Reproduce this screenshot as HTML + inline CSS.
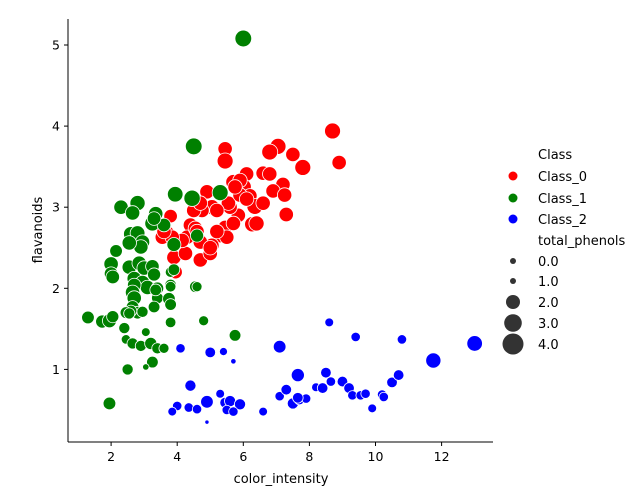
<!DOCTYPE html>
<html><head><meta charset="utf-8"><style>
body{margin:0;background:#fff}
svg{display:block;font-family:"DejaVu Sans","Liberation Sans",sans-serif}
</style></head><body>
<svg id="chart" width="643" height="500" viewBox="0 0 643 500" xmlns="http://www.w3.org/2000/svg">
<g id="marks"></g>
<g id="axes"></g>
<g id="legend"></g>
</svg>
<script>
const c0x=[8.7,8.9,5.45,5.45,7.05,6.8,7.5,7.8,6.6,6.8,6.1,7.2,6.9,7.25,7.3,5.7,6.0,6.2,6.35,6.27,5.85,5.6,5.45,5.3,4.9,5.05,4.75,4.5,3.8,4.4,3.7,3.55,4.3,3.9,4.25,4.7,5.0,5.05,3.95,4.55,5.55,5.2,5.9,5.9,5.75,4.7,4.15,5.5,3.85,6.4,5.2,6.6,4.6,5.7,6.1,4.7,5.0,3.6];
const c0y=[3.94,3.55,3.72,3.57,3.75,3.68,3.65,3.49,3.42,3.41,3.41,3.28,3.2,3.15,2.91,3.31,3.25,3.14,3.01,2.79,2.9,3.0,2.75,2.65,3.19,3.0,2.96,2.96,2.89,2.78,2.68,2.63,2.63,2.38,2.43,2.35,2.43,2.53,2.2,2.74,3.05,2.96,3.15,3.33,3.25,2.57,2.59,2.63,2.63,2.8,2.7,3.05,2.7,2.8,3.1,3.05,2.5,2.7];
const c0p=[3.0,2.6,2.6,3.0,3.0,3.0,2.6,3.0,2.6,2.6,2.6,2.6,2.6,2.6,2.6,2.8,3.0,2.6,3.0,2.8,2.6,2.6,2.6,2.6,2.6,2.8,2.6,2.6,2.4,2.6,2.6,2.6,2.6,2.6,2.6,2.6,2.6,2.6,2.4,2.6,2.6,2.6,2.6,2.6,2.6,2.6,2.6,2.6,2.6,2.8,2.6,2.6,2.6,2.6,2.6,2.6,2.6,2.6];
const c1x=[3.94,4.45,2.3,2.8,2.65,3.35,3.25,3.9,4.6,2.15,2.6,2.8,2.95,2.9,2.55,2.0,2.0,2.05,2.55,2.85,3.0,3.25,3.3,2.7,2.95,3.1,2.7,2.65,2.7,2.65,2.8,2.6,2.45,3.4,3.4,3.3,3.75,3.8,3.8,4.55,1.3,1.73,1.95,2.05,2.4,2.55,2.95,3.8,3.05,2.45,2.65,2.9,3.2,3.4,3.6,3.25,3.05,2.5,1.95,6.0,4.5,5.75,4.8,4.6,3.8,3.8,5.3,3.6,3.3,3.9,3.35];
const c1y=[3.16,3.11,3.0,3.05,2.93,2.92,2.8,2.54,2.65,2.46,2.67,2.68,2.57,2.51,2.56,2.3,2.18,2.14,2.26,2.31,2.25,2.27,2.17,2.12,2.07,2.01,2.04,1.95,1.88,1.77,1.7,1.72,1.7,2.0,1.88,1.77,1.87,1.8,2.04,2.02,1.64,1.59,1.6,1.65,1.51,1.69,1.71,1.58,1.46,1.37,1.32,1.29,1.32,1.26,1.26,1.09,1.03,1.0,0.58,5.08,3.75,1.42,1.6,2.02,2.02,2.2,3.18,2.78,2.86,2.23,1.98];
const c1p=[2.9,3.1,2.6,2.8,2.6,2.6,2.8,2.5,2.3,2.2,2.7,2.7,2.6,2.6,2.6,2.6,2.4,2.4,2.6,2.6,2.6,2.4,2.3,2.6,2.6,2.6,2.4,2.6,2.6,2.2,2.2,2.0,2.0,2.2,2.0,2.0,2.2,2.0,2.0,2.0,2.2,2.3,2.5,2.1,1.9,1.9,1.9,1.8,1.5,1.6,1.9,1.9,2.1,1.9,1.7,2.0,1.2,1.9,2.2,3.2,3.2,2.0,1.7,1.7,1.8,1.8,3.0,2.4,2.4,2.0,2.0];
const c2x=[8.6,9.4,10.8,13.0,11.75,7.1,4.1,5.0,5.4,5.7,4.4,5.3,4.9,4.0,3.85,4.35,4.6,4.9,5.45,5.6,5.9,5.5,5.7,6.6,7.1,7.3,7.65,7.5,7.7,7.9,7.65,8.2,8.4,8.5,8.65,9.0,9.2,9.3,9.55,9.7,9.9,10.2,10.25,10.5,10.7];
const c2y=[1.58,1.4,1.37,1.32,1.11,1.28,1.26,1.21,1.22,1.1,0.8,0.7,0.6,0.55,0.48,0.53,0.51,0.35,0.59,0.61,0.57,0.5,0.48,0.48,0.67,0.75,0.93,0.58,0.63,0.64,0.65,0.78,0.77,0.96,0.85,0.85,0.77,0.68,0.68,0.7,0.52,0.69,0.66,0.84,0.93];
const c2p=[1.5,1.6,1.6,2.9,2.8,2.2,1.6,1.8,1.4,1.1,1.9,1.5,2.2,1.6,1.5,1.6,1.6,1.0,1.8,1.9,1.9,1.6,1.6,1.5,1.6,1.8,2.3,1.9,1.8,1.6,1.8,1.5,1.8,1.8,1.6,1.8,1.8,1.6,1.6,1.6,1.5,1.6,1.6,1.8,1.8];
const classNames=["Class_0","Class_1","Class_2"];
const classColors=["#ff0000","#008000","#0000ff"];
const xTicks=[2,4,6,8,10,12];
const yTicks=[1,2,3,4,5];
const sizeLabels=["0.0","1.0","2.0","3.0","4.0"];

const NS="http://www.w3.org/2000/svg";
const X=v=>45+v*33.05, Y=v=>450.5-v*81.1;
const R=p=>Math.sqrt(4+86*Math.max(0,(p-0.98)/2.9));
function mk(tag,attrs,parent){const e=document.createElementNS(NS,tag);for(const k in attrs)e.setAttribute(k,attrs[k]);parent.appendChild(e);return e;}
const marks=document.getElementById('marks');
[[c0x,c0y,c0p],[c1x,c1y,c1p],[c2x,c2y,c2p]].forEach((s,ci)=>{
  s[0].forEach((xv,i)=>{
    const c=mk('circle',{cx:X(xv),cy:Y(s[1][i]),r:R(s[2][i]),fill:classColors[ci],stroke:'#fff','stroke-width':0.8},marks);
    
    
  });
});
const axes=document.getElementById('axes');
const l1=mk('line',{x1:68,y1:19,x2:68,y2:442,stroke:'#000','stroke-width':1},axes);


const l2=mk('line',{x1:68,y1:442,x2:493,y2:442,stroke:'#000','stroke-width':1},axes);


xTicks.forEach(t=>{
  const tk=mk('line',{x1:X(t),y1:442,x2:X(t),y2:446,stroke:'#000'},axes);
  
  
  const tl=mk('text',{x:X(t),y:461,'text-anchor':'middle','font-size':12.5,fill:'#000'},axes);
  tl.textContent=t;
  
  
});
yTicks.forEach(t=>{
  const tk=mk('line',{x1:64,y1:Y(t),x2:68,y2:Y(t),stroke:'#000'},axes);
  
  
  const tl=mk('text',{x:60,y:Y(t)+4.5,'text-anchor':'end','font-size':12.5,fill:'#000'},axes);
  tl.textContent=t;
  
  
});
const xt=mk('text',{x:281,y:483,'text-anchor':'middle','font-size':13},axes);
xt.textContent='color_intensity';


const yt=mk('text',{x:42,y:230,'text-anchor':'middle','font-size':13,transform:'rotate(-90 42 230)'},axes);
yt.textContent='flavanoids';



const lg=document.getElementById('legend');
function ltext(x,y,s,name){const t=mk('text',{x:x,y:y,'font-size':13},lg);t.textContent=s;}
ltext(538,159,'Class','legend-title-class');
[176,198,219].forEach((y,i)=>{
  const c=mk('circle',{cx:513,cy:y,r:4.5,fill:classColors[i]},lg);
  
  
  ltext(538,y+5,classNames[i],'legend-entry-'+classNames[i].toLowerCase().replace('_','-'));
});
ltext(538,245,'total_phenols','legend-title-phenols');
const lr=[3,3,7,8.8,10.5];
[261,281,302,323,344].forEach((y,i)=>{
  const c=mk('circle',{cx:513,cy:y,r:lr[i],fill:'#333'},lg);
  
  
  ltext(538,y+5,sizeLabels[i],'legend-size-entry');
});
</script>
</body></html>
